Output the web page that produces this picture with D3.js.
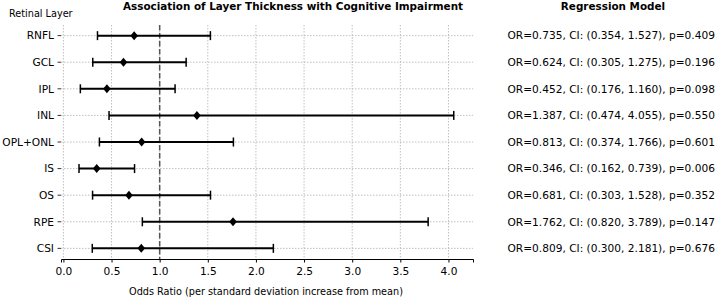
<!DOCTYPE html>
<html><head><meta charset="utf-8">
<script src="https://cdn.jsdelivr.net/npm/d3@7"></script>
<style>body{margin:0;background:#fff}svg{display:block;font-family:"DejaVu Sans",sans-serif}</style>
</head><body><svg id="c" width="716" height="298"></svg>
<script>
const layers = ["RNFL","GCL","IPL","INL","OPL+ONL","IS","OS","RPE","CSI"];
const orValues = [0.735,0.624,0.452,1.387,0.813,0.346,0.681,1.762,0.809];
const ciLow = [0.354,0.305,0.176,0.474,0.374,0.162,0.303,0.820,0.300];
const ciHigh = [1.527,1.275,1.160,4.055,1.766,0.739,1.528,3.789,2.181];
const pValues = [0.409,0.196,0.098,0.550,0.601,0.006,0.352,0.147,0.676];
const xTicks = [0,0.5,1,1.5,2,2.5,3,3.5,4];

const svg = d3.select("#c");
const pL = 61, pR = 473, pT = 25, pB = 259;
const x = d3.scaleLinear().domain([-0.025, 4.255]).range([pL, pR]);
const y = d3.scaleLinear().domain([-0.4, 8.4]).range([pT, pB]);

// vertical grid
svg.append("g").selectAll("line").data(xTicks).join("line")
  .attr("x1", d => x(d)).attr("x2", d => x(d)).attr("y1", pT).attr("y2", pB)
  .attr("stroke", "#b0b0b0").attr("stroke-width", 0.8).attr("stroke-dasharray", "1.5,1.5");
// horizontal grid
svg.append("g").selectAll("line").data(layers).join("line")
  .attr("x1", pL).attr("x2", pR).attr("y1", (d,i) => y(i)).attr("y2", (d,i) => y(i))
  .attr("stroke", "#b0b0b0").attr("stroke-width", 0.8).attr("stroke-dasharray", "1.5,1.5");

// reference line at OR=1
svg.append("line").attr("x1", x(1)).attr("x2", x(1)).attr("y1", pT).attr("y2", pB)
  .attr("stroke", "#555").attr("stroke-width", 1.5).attr("stroke-dasharray", "5.5,2.5");

// error bars
const g = svg.append("g");
layers.forEach((l, i) => {
  const yy = y(i);
  g.append("line").attr("x1", x(ciLow[i])).attr("x2", x(ciHigh[i])).attr("y1", yy).attr("y2", yy)
    .attr("stroke", "#000").attr("stroke-width", 2);
  [ciLow[i], ciHigh[i]].forEach(v => {
    g.append("line").attr("x1", x(v)).attr("x2", x(v)).attr("y1", yy - 4.5).attr("y2", yy + 4.5)
      .attr("stroke", "#000").attr("stroke-width", 1.5);
  });
  g.append("path").attr("transform", `translate(${x(orValues[i])},${yy})`)
    .attr("d", "M0,-4.5L3.8,0L0,4.5L-3.8,0Z").attr("fill", "#000");
  svg.append("text").attr("x", 507.5).attr("y", yy + 3.8).attr("font-size", 10.6).attr("fill", "#000")
    .text(`OR=${orValues[i].toFixed(3)}, CI: (${ciLow[i].toFixed(3)}, ${ciHigh[i].toFixed(3)}), p=${pValues[i].toFixed(3)}`);
});

// x axis
const xa = svg.append("g").attr("transform", `translate(0,${pB})`)
  .call(d3.axisBottom(x).tickValues(xTicks).tickFormat(d3.format(".1f")).tickSizeOuter(0).tickSize(3.5));
xa.select(".domain").attr("stroke", "#000").attr("stroke-width", 1);
xa.selectAll("text").attr("font-size", 10.6).attr("font-family", "DejaVu Sans").attr("dy", "0.85em").attr("fill","#000");

// y axis labels & ticks (no spine)
layers.forEach((l, i) => {
  svg.append("line").attr("x1", pL - 3.5).attr("x2", pL).attr("y1", y(i)).attr("y2", y(i)).attr("stroke", "#000").attr("stroke-width", 0.8);
  svg.append("text").attr("x", pL - 7).attr("y", y(i) + 3.8).attr("text-anchor", "end").attr("font-size", 10.6).text(l);
});

svg.append("text").attr("x", 293).attr("y", 10).attr("text-anchor", "middle").attr("font-size", 10.4).attr("font-weight", "bold").text("Association of Layer Thickness with Cognitive Impairment");
svg.append("text").attr("x", 613).attr("y", 10).attr("text-anchor", "middle").attr("font-size", 10.4).attr("font-weight", "bold").text("Regression Model");
svg.append("text").attr("x", 9).attr("y", 17).attr("font-size", 9.7).text("Retinal Layer");
svg.append("text").attr("x", 266).attr("y", 294.5).attr("text-anchor", "middle").attr("font-size", 9.7).text("Odds Ratio (per standard deviation increase from mean)");
</script></body></html>
